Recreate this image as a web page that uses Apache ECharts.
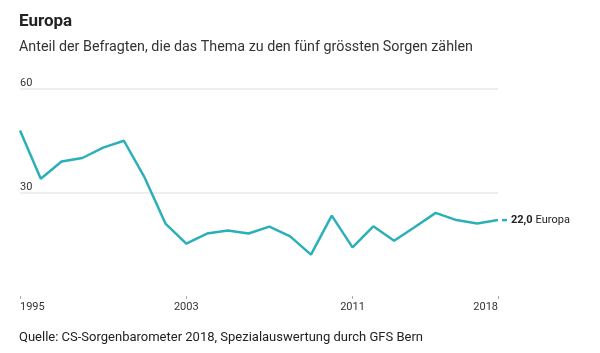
<!DOCTYPE html>
<html>
<head>
<meta charset="utf-8">
<script src="https://cdn.jsdelivr.net/npm/echarts@6/dist/echarts.min.js"></script>
<style>
  html, body { margin: 0; padding: 0; background: #fff; }
  #chart { width: 600px; height: 353px; }
</style>
</head>
<body>
<div id="chart"></div>
<script>
// Jahre und Anteil (%) Europa als Sorge
var years = ['1995','1996','1997','1998','1999','2000','2001','2002','2003','2004','2005','2006',
             '2007','2008','2009','2010','2011','2012','2013','2014','2015','2016','2017','2018'];
var europa = [48, 34, 39, 40, 43, 45, 34.3, 21, 15.2, 18.1, 19, 18.1,
              20.1, 17.3, 12, 23.3, 14.1, 20.2, 16, 20, 24.1, 22, 21, 22.0];
var shownYears = ['1995', '2003', '2011', '2018'];
var yTicks = [0, 30, 60];

var teal = '#2bb0b9';
var font = 'Roboto, "Liberation Sans", sans-serif';

var chart = echarts.init(document.getElementById('chart'), null, { renderer: 'canvas' });

var option = {
  backgroundColor: '#fff',
  animation: false,
  textStyle: { fontFamily: font },
  title: [
    {
      text: 'Europa',
      left: 14, top: 8,
      textStyle: { fontSize: 17, fontWeight: 'bold', color: '#222', fontFamily: font }
    },
    {
      text: 'Anteil der Befragten, die das Thema zu den fünf grössten Sorgen zählen',
      left: 14, top: 35,
      textStyle: { fontSize: 14.3, fontWeight: 'normal', color: '#333', fontFamily: font }
    },
    {
      text: 'Quelle: CS-Sorgenbarometer 2018, Spezialauswertung durch GFS Bern',
      left: 14, top: 326,
      textStyle: { fontSize: 13, fontWeight: 'normal', color: '#222', fontFamily: font }
    }
  ],
  grid: { left: 20, right: 102, top: 89, bottom: 57 },
  xAxis: {
    type: 'category',
    data: years,
    boundaryGap: false,
    axisLine: { show: false },
    axisTick: {
      show: true,
      length: 3,
      inside: false,
      lineStyle: { color: '#aaa' },
      interval: function (i, v) { return shownYears.indexOf(v) >= 0; }
    },
    axisLabel: {
      interval: function (i, v) { return shownYears.indexOf(v) >= 0; },
      color: '#333',
      fontSize: 11,
      margin: 6,
      alignMinLabel: 'left',
      alignMaxLabel: 'right'
    },
    splitLine: { show: false }
  },
  yAxis: {
    type: 'value',
    min: yTicks[0],
    max: yTicks[yTicks.length - 1],
    interval: 30,
    axisLine: { show: false },
    axisTick: { show: false },
    axisLabel: {
      inside: true,
      margin: 0,
      verticalAlign: 'bottom',
      lineHeight: 11,
      padding: 0,
      color: '#333',
      fontSize: 11,
      showMinLabel: false
    },
    splitLine: {
      show: true,
      lineStyle: { color: ['rgba(0,0,0,0)', '#e8e8e8', '#e8e8e8'], width: 1.5 }
    }
  },
  series: [
    {
      name: 'Europa',
      type: 'line',
      data: europa,
      symbol: 'none',
      lineStyle: { color: teal, width: 2.5 },
      endLabel: {
        show: true,
        distance: 4,
        formatter: function (p) {
          return '{d|}{v|' + p.value.toFixed(1).replace('.', ',') + '} {n|Europa}';
        },
        rich: {
          d: { width: 5, height: 2.5, backgroundColor: teal, padding: 0 },
          v: { fontSize: 11, fontWeight: 'bold', color: '#222', padding: [0, 0, 0, 4] },
          n: { fontSize: 11, color: '#222' }
        }
      }
    }
  ]
};

chart.setOption(option);
</script>
</body>
</html>
